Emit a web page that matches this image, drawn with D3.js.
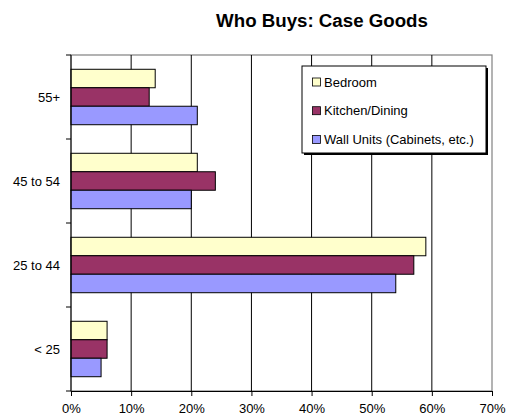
<!DOCTYPE html>
<html><head><meta charset="utf-8">
<script src="https://cdn.jsdelivr.net/npm/d3@7"></script>
<style>body{margin:0;background:#fff}svg{display:block}text{font-family:"Liberation Sans",Arial,sans-serif}</style>
</head><body><svg id="c" width="508" height="415"></svg>
<script>
const categories = ["55+", "45 to 54", "25 to 44", "< 25"];
const seriesNames = ["Bedroom", "Kitchen/Dining", "Wall Units (Cabinets, etc.)"];
const bedroom = [14, 21, 59, 6];
const kitchen = [13, 24, 57, 6];
const wallUnits = [21, 20, 54, 5];
const xTicks = [0, 10, 20, 30, 40, 50, 60, 70];
const colors = ["#FFFFCC", "#993366", "#9999FF"];

const series = [bedroom, kitchen, wallUnits];
const svg = d3.select("#c");
const m = {l: 71, r: 16, t: 55, b: 24};
const W = 508, H = 415;
const x = d3.scaleLinear().domain([0, 70]).range([m.l, W - m.r]);
const y = d3.scaleBand().domain(categories).range([m.t, H - m.b]).paddingInner(0.34).paddingOuter(0.17);
const yb = d3.scaleBand().domain(categories).range([m.t, H - m.b]);
const ys = d3.scaleBand().domain(seriesNames).range([0, y.bandwidth()]);

svg.append("text").attr("x", 322).attr("y", 27).attr("text-anchor", "middle")
  .attr("font-weight", "bold").attr("font-size", 18.7).text("Who Buys: Case Goods");

// plot border
svg.append("rect").attr("x", x(0)).attr("y", m.t).attr("width", x(70) - x(0)).attr("height", H - m.b - m.t)
  .attr("fill", "none").attr("stroke", "#808080").attr("stroke-width", 1.2);

// gridlines
svg.append("g").selectAll("line").data(xTicks.slice(1, -1)).join("line")
  .attr("x1", d => x(d)).attr("x2", d => x(d)).attr("y1", m.t).attr("y2", H - m.b)
  .attr("stroke", "#000").attr("stroke-width", 1);

// bars
const g = svg.append("g");
series.forEach((vals, si) => {
  g.selectAll(null).data(categories).join("rect")
    .attr("x", x(0))
    .attr("y", (c) => y(c) + ys(seriesNames[si]))
    .attr("width", (c, i) => x(vals[i]) - x(0))
    .attr("height", ys.bandwidth())
    .attr("fill", colors[si]).attr("stroke", "#000").attr("stroke-width", 1);
});

// axes
const xAxis = d3.axisBottom(x).tickValues(xTicks).tickFormat(d => d + "%").tickSize(5).tickPadding(8);
const ax = svg.append("g").attr("transform", `translate(0,${H - m.b})`).call(xAxis);
ax.select(".domain").attr("stroke", "#000");
ax.selectAll("text").attr("font-size", 13).attr("font-family", "Liberation Sans, Arial, sans-serif").attr("fill", "#000");

const yAxisG = svg.append("g").attr("transform", `translate(${m.l},0)`);
yAxisG.append("line").attr("x1", 0).attr("x2", 0).attr("y1", m.t).attr("y2", H - m.b).attr("stroke", "#000");
const bounds = categories.map(c => yb(c)).concat([H - m.b]);
yAxisG.selectAll(".tk").data(bounds).join("line").attr("class", "tk")
  .attr("x1", -5).attr("x2", 0).attr("y1", d => d).attr("y2", d => d).attr("stroke", "#000");
yAxisG.selectAll(".lb").data(categories).join("text").attr("class", "lb")
  .attr("x", -11).attr("y", c => yb(c) + yb.bandwidth() / 2).attr("dy", "0.35em")
  .attr("text-anchor", "end").attr("font-size", 13).text(d => d);

// legend
const lg = svg.append("g").attr("transform", "translate(302,66)");
lg.append("rect").attr("x", 2).attr("y", 2).attr("width", 184).attr("height", 87).attr("fill", "#000");
lg.append("rect").attr("x", 0).attr("y", 0).attr("width", 184).attr("height", 87).attr("fill", "#fff").attr("stroke", "#000");
seriesNames.forEach((n, i) => {
  const yy = 16 + i * 28.7;
  lg.append("rect").attr("x", 10.5).attr("y", yy - 4).attr("width", 8).attr("height", 8)
    .attr("fill", colors[i]).attr("stroke", "#000").attr("stroke-width", 0.8);
  lg.append("text").attr("x", 22).attr("y", yy).attr("dy", "0.35em").attr("font-size", 13).text(n);
});
</script></body></html>
